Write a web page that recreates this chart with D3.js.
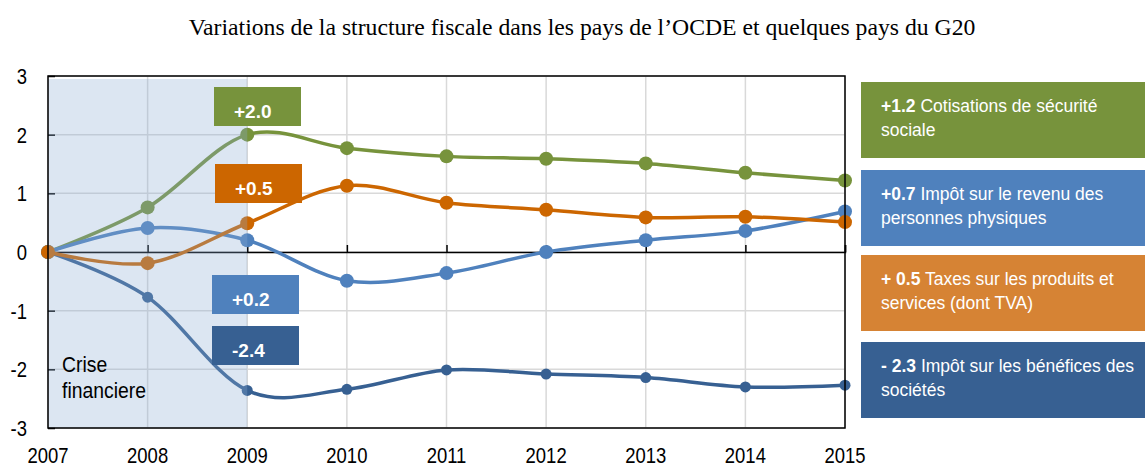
<!DOCTYPE html>
<html>
<head>
<meta charset="utf-8">
<script src="https://cdn.jsdelivr.net/npm/d3@7"></script>
<style>
  html, body { margin: 0; padding: 0; background: #fff; }
  svg { display: block; }
  text { font-family: "Liberation Sans", Arial, sans-serif; }
</style>
</head>
<body>
<svg id="chart" width="1145" height="466"></svg>
<script>
// Years on the x axis
const years = [2007, 2008, 2009, 2010, 2011, 2012, 2013, 2014, 2015];
const yTicks = [-3, -2, -1, 0, 1, 2, 3];

// Change in tax structure since 2007 (percentage points)
const socialSecurity = [0, 0.76, 2.0, 1.77, 1.63, 1.59, 1.51, 1.35, 1.22];
const goodsServices  = [0, -0.19, 0.49, 1.13, 0.84, 0.72, 0.59, 0.60, 0.51];
const personalIncome = [0, 0.41, 0.20, -0.49, -0.36, 0.00, 0.20, 0.36, 0.69];
const corporateIncome = [0, -0.77, -2.36, -2.34, -2.01, -2.08, -2.14, -2.30, -2.27];

// Callout labels placed next to 2009
const calloutText = ["+2.0", "+0.5", "+0.2", "-2.4"];

// Legend box text: bold figure + description lines
const legendValue = ["+1.2", "+0.7", "+ 0.5", "- 2.3"];
const legendLines = [
  [" Cotisations de sécurité", "sociale"],
  [" Impôt sur le revenu des", "personnes physiques"],
  [" Taxes sur les produits et", "services (dont TVA)"],
  [" Impôt sur les bénéfices des", "sociétés"]
];

const crisisStart = 2007, crisisEnd = 2009;

const svg = d3.select("#chart");
const W = 1145, H = 466;
const x = d3.scaleLinear().domain([2007, 2015]).range([48, 845]);
const y = d3.scaleLinear().domain([-3, 3]).range([428, 76]);

// Condensed label helper (narrow sans look)
function narrowText(sel, px, py, str, size, sx, anchor) {
  return sel.append("text")
    .attr("transform", `translate(${px},${py}) scale(${sx},1)`)
    .attr("text-anchor", anchor || "start")
    .style("font-size", size + "px")
    .attr("fill", "#000")
    .text(str);
}

// Title
svg.append("text")
  .attr("x", 582).attr("y", 35)
  .attr("text-anchor", "middle")
  .style("font-family", "'Liberation Serif', 'Times New Roman', serif")
  .style("font-size", "23.7px")
  .attr("fill", "#000")
  .text("Variations de la structure fiscale dans les pays de l’OCDE et quelques pays du G20");

// Gridlines
const grid = svg.append("g");
grid.selectAll("line.h").data(yTicks).join("line")
  .attr("x1", x(2007)).attr("x2", x(2015))
  .attr("y1", d => y(d)).attr("y2", d => y(d))
  .attr("stroke", "#d9d9d9").attr("stroke-width", 1.5);
grid.selectAll("line.v").data(years).join("line")
  .attr("x1", d => x(d)).attr("x2", d => x(d))
  .attr("y1", y(3)).attr("y2", y(-3))
  .attr("stroke", "#d9d9d9").attr("stroke-width", 1.5);

// Zero axis with upward ticks
const xAxis = d3.axisTop(x).tickValues(years).tickSize(7).tickFormat("");
const gx = svg.append("g").attr("transform", `translate(0,${y(0)})`).call(xAxis);
gx.select(".domain").attr("stroke", "#000").attr("stroke-width", 1.5);
gx.selectAll(".tick line").attr("stroke", "#000").attr("stroke-width", 1.5);

// Left axis ticks pointing inward
const yAxis = d3.axisRight(y).tickValues(yTicks).tickSize(7).tickFormat("");
const gy = svg.append("g").attr("transform", `translate(${x(2007)},0)`).call(yAxis);
gy.select(".domain").remove();
gy.selectAll(".tick line").attr("stroke", "#000").attr("stroke-width", 1.5);

// Series
const series = [
  { values: socialSecurity, color: "#77933c", r: 7 },
  { values: corporateIncome, color: "#376092", r: 5.5 },
  { values: personalIncome, color: "#4f81bd", r: 7 },
  { values: goodsServices, color: "#cc6600", r: 7 }
];
const line = d3.line()
  .x((d, i) => x(years[i]))
  .y(d => y(d))
  .curve(d3.curveCardinal.tension(0));

const gs = svg.append("g");
series.forEach(s => {
  gs.append("path")
    .attr("d", line(s.values))
    .attr("fill", "none")
    .attr("stroke", s.color)
    .attr("stroke-width", 3.5);
  gs.selectAll(null).data(s.values).join("circle")
    .attr("cx", (d, i) => x(years[i]))
    .attr("cy", d => y(d))
    .attr("r", s.r)
    .attr("fill", s.color);
});

// Crisis period shading
svg.append("rect")
  .attr("x", x(crisisStart)).attr("y", y(3) + 3)
  .attr("width", x(crisisEnd) - x(crisisStart))
  .attr("height", y(-3) - y(3) - 3)
  .attr("fill", "rgb(138,172,212)")
  .attr("opacity", 0.3);

narrowText(svg, 62, 372, "Crise", 22, 0.88);
narrowText(svg, 62, 398, "financiere", 22, 0.88);

// Plot frame
svg.append("rect")
  .attr("x", x(2007)).attr("y", y(3))
  .attr("width", x(2015) - x(2007)).attr("height", y(-3) - y(3))
  .attr("fill", "none").attr("stroke", "#000").attr("stroke-width", 1.5);

// Axis labels
const yl = svg.append("g");
yTicks.forEach(d => narrowText(yl, 27, y(d) + 8, d, 22, 0.84, "end"));
const xl = svg.append("g");
years.forEach(d => narrowText(xl, x(d), 463, d, 22, 0.84, "middle"));

// Callout boxes near 2009
const callouts = [
  { text: calloutText[0], color: "#77933c", x0: 214, y0: 87 },
  { text: calloutText[1], color: "#cc6600", x0: 215, y0: 164 },
  { text: calloutText[2], color: "#4f81bd", x0: 212, y0: 275 },
  { text: calloutText[3], color: "#376092", x0: 212, y0: 326 }
];
callouts.forEach(c => {
  svg.append("rect").attr("x", c.x0).attr("y", c.y0)
    .attr("width", 87).attr("height", 39).attr("fill", c.color);
  svg.append("text").attr("x", c.x0 + 20).attr("y", c.y0 + 31)
    .style("font-size", "19px").style("font-weight", "bold")
    .attr("fill", "#fff").text(c.text);
});

// Legend boxes on the right
const legendColors = ["#77933c", "#4f81bd", "#d68334", "#376092"];
const legendTop = [82, 170, 255, 342];
legendColors.forEach((col, i) => {
  const g = svg.append("g");
  g.append("rect").attr("x", 861).attr("y", legendTop[i])
    .attr("width", W - 861).attr("height", 76).attr("fill", col);
  const t1 = g.append("text").attr("x", 881).attr("y", legendTop[i] + 30)
    .style("font-size", "17.5px").attr("fill", "#fff");
  t1.append("tspan").style("font-weight", "bold").text(legendValue[i]);
  t1.append("tspan").text(legendLines[i][0]);
  g.append("text").attr("x", 881).attr("y", legendTop[i] + 54)
    .style("font-size", "17.5px").attr("fill", "#fff").text(legendLines[i][1]);
});
</script>
</body>
</html>
